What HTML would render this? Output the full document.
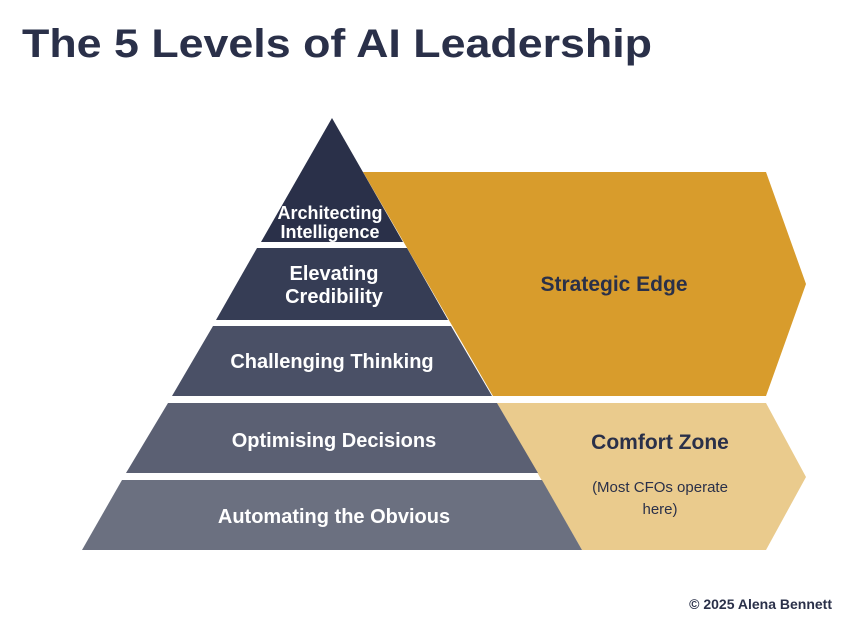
<!DOCTYPE html>
<html><head><meta charset="utf-8"><style>
body{margin:0;background:#fff;}
svg{display:block;}
text{font-family:"Liberation Sans",sans-serif;font-weight:bold;}
</style></head><body>
<svg width="859" height="622" viewBox="0 0 859 622" xmlns="http://www.w3.org/2000/svg">
<rect width="859" height="622" fill="#fff"/>
<text x="22" y="57" font-size="40" fill="#2a3049" textLength="630" lengthAdjust="spacingAndGlyphs">The 5 Levels of AI Leadership</text>
<polygon points="363,172 766,172 806,284 766,396 493,396" fill="#d89c2c"/>
<polygon points="497,403 766,403 806,477 766,550 582,550" fill="#eacb8d"/>
<polygon points="332,118 403,242 261,242" fill="#2a3049"/>
<polygon points="257,248 407,248 448,320 216,320" fill="#363d55"/>
<polygon points="213,326 451,326 492,396 172,396" fill="#4a5066"/>
<polygon points="168,403 497,403 538,473 126,473" fill="#5b6073"/>
<polygon points="122,480 542,480 582,550 82,550" fill="#6b7080"/>
<g fill="#fff" text-anchor="middle" font-size="18">
<text x="330" y="219">Architecting</text>
<text x="330" y="238">Intelligence</text>
<text x="334" y="280" font-size="20">Elevating</text>
<text x="334" y="303" font-size="20">Credibility</text>
<text x="332" y="368" font-size="20">Challenging Thinking</text>
<text x="334" y="447" font-size="20">Optimising Decisions</text>
<text x="334" y="523" font-size="20">Automating the Obvious</text>
</g>
<text x="614" y="291" font-size="21" fill="#2a3049" text-anchor="middle">Strategic Edge</text>
<text x="660" y="449" font-size="21" fill="#2a3049" text-anchor="middle">Comfort Zone</text>
<g fill="#2a3049" text-anchor="middle" font-size="15">
<text x="660" y="492" style="font-weight:normal">(Most CFOs operate</text>
<text x="660" y="514" style="font-weight:normal">here)</text>
</g>
<text x="832" y="609" font-size="14" fill="#2a3049" text-anchor="end">© 2025 Alena Bennett</text>
</svg>
</body></html>
